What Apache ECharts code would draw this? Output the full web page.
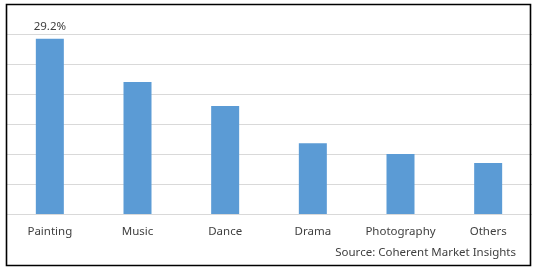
<!DOCTYPE html>
<html><head><meta charset="utf-8">
<script src="https://cdn.jsdelivr.net/npm/echarts@6/dist/echarts.min.js"></script>
<style>html,body{margin:0;padding:0;background:#fff}#c{width:538px;height:272px}</style>
</head><body><div id="c"></div>
<script>
const categories = ["Painting", "Music", "Dance", "Drama", "Photography", "Others"];
const values = [29.2, 22.0, 18.0, 11.8, 10.0, 8.5];
const labelShown = ["29.2%", "", "", "", "", ""];
const sourceText = "Source: Coherent Market Insights";

const chart = echarts.init(document.getElementById('c'), null, {renderer: 'canvas'});
const font = "'Noto Sans', sans-serif";
chart.setOption({
  animation: false,
  grid: {left: 6, right: 6, top: 34, bottom: 58, containLabel: false},
  xAxis: {
    type: 'category', data: categories,
    axisLine: {show: false}, axisTick: {show: false},
    axisLabel: {interval: 0, color: '#404040', fontSize: 11.5, fontFamily: font, margin: 12}
  },
  yAxis: {
    type: 'value', min: 0, max: 30, interval: 5,
    axisLabel: {show: false}, axisLine: {show: false}, axisTick: {show: false},
    splitLine: {lineStyle: {color: '#D9D9D9', width: 1}}
  },
  series: [{
    type: 'bar', data: values, barWidth: 28,
    itemStyle: {color: '#5B9BD5'},
    label: {show: true, position: 'top', distance: 6, color: '#404040', fontSize: 11.5, fontFamily: font,
      formatter: p => labelShown[p.dataIndex]}
  }],
  graphic: [
    {type: 'rect', shape: {x: 6.5, y: 4.5, width: 524, height: 261}, style: {fill: 'none', stroke: '#000', lineWidth: 1.6}, z: 100},
    {type: 'text', right: 22, top: 247, style: {text: sourceText, fill: '#404040', font: "11.5px 'Noto Sans', sans-serif"}}
  ]
});
</script></body></html>
